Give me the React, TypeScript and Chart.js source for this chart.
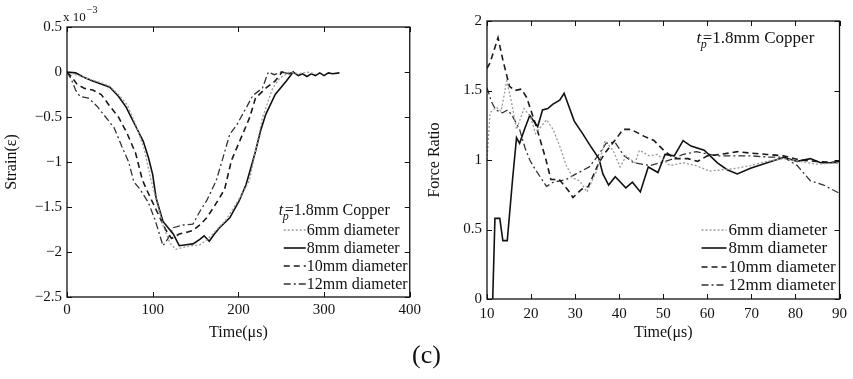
import React, { useEffect, useRef } from "react";
import { Chart, registerables } from "chart.js";
Chart.register(...registerables);

const FONT = "'Liberation Serif', 'Times New Roman', Times, serif";

// ---------- shared ----------
const seriesLabels = ["6mm diameter", "8mm diameter", "10mm diameter", "12mm diameter"];
const legendTitle = "=1.8mm Copper";
const xTitle = "Time(\u03bcs)";

// ---------- left panel: strain (x 10^-3) vs time ----------
const strainT6 = [0, 10, 20, 30, 40, 50, 60, 70, 80, 90, 98, 105, 112, 120, 127, 135, 145, 155, 165, 175, 185, 195, 205, 213, 220, 228, 240, 248, 260, 270, 280, 290];
const strainV6 = [0, -0.03, -0.06, -0.09, -0.12, -0.16, -0.25, -0.36, -0.58, -0.85, -1.2, -1.45, -1.7, -1.9, -1.97, -1.95, -1.93, -1.92, -1.85, -1.75, -1.65, -1.5, -1.35, -1.2, -0.88, -0.51, -0.18, -0.07, 0, -0.02, 0, -0.02];

const strainT8 = [0, 10, 19, 30, 39, 50, 60, 69, 80, 89, 95, 100, 104, 112, 124, 131, 139, 147, 155, 160, 166, 172, 178, 190, 201, 209, 215, 220, 226, 232, 243, 256, 264, 270, 275, 280, 285, 290, 295, 300, 305, 310, 318];
const strainV8 = [0, -0.01, -0.056, -0.1, -0.13, -0.17, -0.27, -0.39, -0.6, -0.77, -0.95, -1.14, -1.4, -1.66, -1.8, -1.93, -1.92, -1.91, -1.86, -1.82, -1.88, -1.8, -1.73, -1.62, -1.43, -1.25, -1.05, -0.88, -0.65, -0.47, -0.25, -0.1, 0, -0.04, -0.02, -0.05, -0.02, -0.04, -0.01, -0.04, -0.01, -0.02, -0.01];

const strainT10 = [0, 5, 12, 20, 30, 40, 50, 60, 70, 80, 88, 95, 105, 115, 122, 131, 140, 147, 155, 163, 170, 178, 184, 192, 205, 213, 220, 232, 243, 251, 258, 265];
const strainV10 = [0, -0.05, -0.14, -0.18, -0.2, -0.25, -0.38, -0.5, -0.68, -0.9, -1.2, -1.35, -1.55, -1.75, -1.85, -1.8, -1.78, -1.76, -1.7, -1.62, -1.52, -1.4, -1.3, -0.98, -0.69, -0.51, -0.29, -0.18, -0.1, 0, -0.02, 0];

const strainT12 = [0, 5, 10, 15, 25, 35, 45, 55, 65, 72, 78, 85, 95, 103, 112, 118, 124, 135, 147, 155, 163, 174, 180, 190, 198, 209, 217, 228, 235, 242, 250, 260];
const strainV12 = [0, -0.08, -0.2, -0.27, -0.29, -0.38, -0.5, -0.62, -0.85, -1.0, -1.22, -1.3, -1.45, -1.65, -1.93, -1.85, -1.73, -1.7, -1.69, -1.55, -1.43, -1.21, -1.02, -0.69, -0.59, -0.4, -0.26, -0.18, 0, -0.03, 0, -0.02];

const strainXTicks = [0, 100, 200, 300, 400];
const strainYTicks = [-2.5, -2, -1.5, -1, -0.5, 0, 0.5];

// ---------- right panel: force ratio vs time ----------
const forceT6 = [10, 10.7, 12.1, 13.2, 14.5, 15.6, 16.7, 18.4, 19.9, 21.0, 23.5, 25.0, 26.5, 28.0, 29.5, 31.0, 32.7, 35.0, 36.8, 38.6, 40.2, 41.6, 43.6, 44.6, 46.8, 48.7, 51.5, 54.5, 57.5, 60.5, 63.5, 66.5, 69.8, 73.5, 77.3, 81, 84.8, 90];
const forceV6 = [1.0, 1.34, 1.38, 1.35, 1.57, 1.41, 1.22, 1.37, 1.31, 1.19, 1.29, 1.22, 1.1, 0.96, 0.87, 0.85, 0.77, 0.93, 1.14, 1.07, 0.95, 1.03, 0.98, 1.07, 1.03, 1.04, 0.96, 0.98, 0.96, 0.92, 0.93, 0.94, 0.96, 0.99, 1.01, 0.99, 0.97, 0.98];

const forceT8 = [11.3, 11.8, 12.9, 13.6, 14.6, 15.8, 16.7, 17.4, 18.5, 19.7, 21.5, 22.6, 23.8, 24.9, 26.5, 27.5, 29.8, 31.7, 33.5, 35.4, 36.3, 37.6, 39.1, 40.3, 41.5, 43.0, 44.8, 46.6, 48.8, 50.4, 52.5, 54.5, 56.3, 59.3, 62.3, 64.5, 66.8, 69.8, 73.6, 77.4, 80.4, 83.4, 85.7, 88, 90];
const forceV8 = [0, 0.58, 0.58, 0.42, 0.42, 0.86, 1.16, 1.12, 1.22, 1.32, 1.24, 1.36, 1.37, 1.4, 1.43, 1.48, 1.28, 1.19, 1.1, 1.01, 0.9, 0.82, 0.88, 0.84, 0.8, 0.84, 0.77, 0.95, 0.91, 1.04, 1.03, 1.14, 1.1, 1.07, 0.98, 0.93, 0.9, 0.94, 0.98, 1.02, 0.99, 1.01, 0.98, 0.98, 0.99];

const forceT10 = [10, 10.7, 12.5, 13.6, 15.1, 16.3, 17.8, 19.0, 21.2, 23.4, 24.5, 26.4, 28.7, 29.5, 31.5, 33.0, 35.4, 37.0, 39.0, 40.9, 42.7, 45.7, 47.9, 50.4, 52.6, 55.6, 57.8, 60.0, 63.0, 66.8, 69.8, 73.5, 77.3, 81.0, 84.8, 90];
const forceV10 = [1.66, 1.7, 1.88, 1.72, 1.53, 1.5, 1.51, 1.45, 1.24, 1.0, 0.86, 0.86, 0.77, 0.73, 0.79, 0.81, 0.98, 1.06, 1.14, 1.22, 1.22, 1.17, 1.14, 1.06, 1.01, 1.01, 0.99, 1.03, 1.04, 1.06, 1.05, 1.04, 1.03, 1.0, 0.99, 0.98];

const forceT12 = [10, 11, 12, 13.5, 14.7, 15.7, 17.4, 18.6, 19.7, 21.0, 23.5, 25.0, 28.0, 30.2, 33.2, 35.4, 37.0, 39.0, 41.1, 43.3, 47.0, 51.5, 54.5, 57.5, 62.0, 66.0, 70.0, 74.0, 77.4, 80.4, 83.4, 86.4, 90];
const forceV12 = [1.52, 1.42, 1.36, 1.34, 1.36, 1.32, 1.22, 1.09, 1.0, 0.93, 0.81, 0.84, 0.86, 0.9, 0.95, 1.04, 1.12, 1.13, 1.03, 0.98, 0.96, 1.0, 1.04, 1.06, 1.03, 1.03, 1.03, 1.02, 1.02, 0.96, 0.85, 0.82, 0.76];

const forceXTicks = [10, 20, 30, 40, 50, 60, 70, 80, 90];
const forceYTicks = [0, 0.5, 1, 1.5, 2];

// ---------- styles (kept apart from data) ----------
const lineStyles = [
  { color: "#9a9a9a", width: 1.3, dash: [2, 2] },
  { color: "#111111", width: 1.6, dash: [] as number[] },
  { color: "#1a1a1a", width: 1.6, dash: [6, 4] },
  { color: "#333333", width: 1.3, dash: [7, 3, 2, 3] },
];

function drawTp(ctx: CanvasRenderingContext2D, x: number, y: number, size: number) {
  ctx.textAlign = "left";
  ctx.textBaseline = "alphabetic";
  ctx.font = `italic ${size}px ${FONT}`;
  ctx.fillText("t", x, y);
  const tw = ctx.measureText("t").width;
  ctx.font = `italic ${Math.round(size * 0.72)}px ${FONT}`;
  ctx.fillText("p", x + tw - 0.5, y + 5);
  ctx.font = `${size}px ${FONT}`;
  ctx.fillText(legendTitle, x + tw + 1.5, y);
}

const panelPlugin = {
  id: "panel",
  afterDraw(chart: any) {
    const o = chart.options.plugins.panel;
    if (!o) return;
    const { ctx, chartArea: a } = chart;
    const xs = chart.scales.x;
    const ys = chart.scales.y;
    ctx.save();
    ctx.strokeStyle = "#111";
    ctx.lineWidth = 1.3;
    ctx.setLineDash([]);
    ctx.strokeRect(a.left, a.top, a.right - a.left, a.bottom - a.top);
    ctx.lineWidth = 1;
    ctx.beginPath();
    const tl = 5;
    xs.ticks.forEach((t: any) => {
      const x = Math.round(xs.getPixelForValue(t.value)) + 0.5;
      ctx.moveTo(x, a.bottom);
      ctx.lineTo(x, a.bottom - tl);
      ctx.moveTo(x, a.top);
      ctx.lineTo(x, a.top + tl);
    });
    ys.ticks.forEach((t: any) => {
      const y = Math.round(ys.getPixelForValue(t.value)) + 0.5;
      ctx.moveTo(a.left, y);
      ctx.lineTo(a.left + tl, y);
      ctx.moveTo(a.right, y);
      ctx.lineTo(a.right - tl, y);
    });
    ctx.stroke();

    // legend
    const L = o.legend;
    ctx.fillStyle = "#111";
    chart.data.datasets.forEach((ds: any, i: number) => {
      const y = a.bottom - L.rows[i];
      ctx.strokeStyle = ds.borderColor;
      ctx.lineWidth = ds.borderWidth;
      ctx.setLineDash(ds.borderDash || []);
      ctx.beginPath();
      ctx.moveTo(a.right - L.x0, y);
      ctx.lineTo(a.right - L.x1, y);
      ctx.stroke();
      ctx.setLineDash([]);
      ctx.font = `${L.size}px ${FONT}`;
      ctx.textAlign = "left";
      ctx.textBaseline = "middle";
      ctx.fillText(ds.label, a.right - L.tx, y + 1);
    });
    ctx.fillStyle = "#111";
    drawTp(
      ctx,
      a.right - o.title.dx,
      o.title.fromBottom ? a.bottom - o.title.dy : a.top + o.title.dy,
      L.size
    );

    if (o.exponent) {
      ctx.textAlign = "left";
      ctx.textBaseline = "alphabetic";
      ctx.font = `13px ${FONT}`;
      ctx.fillText("x 10", a.left - 4, a.top - 6);
      const w = ctx.measureText("x 10").width;
      ctx.font = `10px ${FONT}`;
      ctx.fillText("\u22123", a.left - 3 + w, a.top - 14);
    }
    ctx.restore();
  },
};

type Series = { t: number[]; v: number[] };

function makeConfig(p: any) {
  const series: Series[] = p.series;
  return {
    type: "line",
    data: {
      datasets: series.map((s, i) => ({
        label: seriesLabels[i],
        data: s.t.map((t, j) => ({ x: t, y: s.v[j] })),
        borderColor: lineStyles[i].color,
        borderWidth: lineStyles[i].width,
        borderDash: lineStyles[i].dash,
        pointRadius: 0,
        tension: 0,
        fill: false,
      })),
    },
    options: {
      responsive: false,
      animation: false,
      events: [],
      layout: { padding: { top: p.top, right: p.right, left: 0, bottom: 0 } },
      plugins: {
        legend: { display: false },
        tooltip: { enabled: false },
        panel: p.panel,
      },
      scales: {
        x: {
          type: "linear",
          min: p.xMin,
          max: p.xMax,
          afterBuildTicks: (s: any) => {
            s.ticks = p.xTicks.map((v: number) => ({ value: v }));
          },
          afterFit: (s: any) => {
            s.height = p.xH;
          },
          grid: { display: false, drawTicks: false },
          border: { display: false },
          ticks: {
            color: "#111",
            font: { family: FONT, size: 15 },
            padding: p.xPad,
            maxRotation: 0,
            autoSkip: false,
          },
          title: {
            display: true,
            text: xTitle,
            color: "#111",
            font: { family: FONT, size: 16 },
            padding: { top: 0, bottom: p.xTitlePad },
          },
        },
        y: {
          type: "linear",
          min: p.yMin,
          max: p.yMax,
          afterBuildTicks: (s: any) => {
            s.ticks = p.yTicks.map((v: number) => ({ value: v }));
          },
          afterFit: (s: any) => {
            s.width = p.yW;
          },
          grid: { display: false, drawTicks: false },
          border: { display: false },
          ticks: {
            color: "#111",
            font: { family: FONT, size: 15 },
            padding: 5,
            autoSkip: false,
            callback: (v: any) => String(v).replace("-", "\u2212"),
          },
          title: {
            display: true,
            text: p.yTitle,
            color: "#111",
            font: { family: FONT, size: 16 },
            padding: { top: p.yTitlePad, bottom: 0 },
          },
        },
      },
    },
    plugins: [panelPlugin],
  };
}

function Panel({ cfg, left, width, height }: any) {
  const ref = useRef<HTMLCanvasElement>(null);
  useEffect(() => {
    const chart = new Chart(ref.current as HTMLCanvasElement, makeConfig(cfg) as any);
    return () => chart.destroy();
  }, []);
  return (
    <canvas
      ref={ref}
      width={width}
      height={height}
      style={{ position: "absolute", left, top: 0, width, height, display: "block" }}
    />
  );
}

const leftCfg = {
  series: [
    { t: strainT6, v: strainV6 },
    { t: strainT8, v: strainV8 },
    { t: strainT10, v: strainV10 },
    { t: strainT12, v: strainV12 },
  ],
  xMin: 0, xMax: 400, yMin: -2.5, yMax: 0.5,
  xTicks: strainXTicks, yTicks: strainYTicks,
  top: 27, right: 14, xH: 48, yW: 67, xPad: 4, xTitlePad: 3, yTitlePad: 2,
  yTitle: "Strain(\u03b5)",
  panel: {
    exponent: true,
    legend: { rows: [67, 49, 31, 13], x0: 126, x1: 104, tx: 103, size: 16 },
    title: { dx: 131, fromBottom: true, dy: 82 },
  },
};

const rightCfg = {
  series: [
    { t: forceT6, v: forceV6 },
    { t: forceT8, v: forceV8 },
    { t: forceT10, v: forceV10 },
    { t: forceT12, v: forceV12 },
  ],
  xMin: 10, xMax: 90, yMin: 0, yMax: 2,
  xTicks: forceXTicks, yTicks: forceYTicks,
  top: 21, right: 10, xH: 46, yW: 62, xPad: 6, xTitlePad: 3, yTitlePad: 0,
  yTitle: "Force Ratio",
  panel: {
    exponent: false,
    legend: { rows: [69, 51, 32, 14], x0: 138, x1: 113, tx: 111, size: 17 },
    title: { dx: 143, fromBottom: false, dy: 22 },
  },
};

export default function App() {
  return (
    <div style={{ position: "absolute", left: 0, top: 0, width: 853, height: 379, background: "#fff", overflow: "hidden" }}>
      <Panel cfg={leftCfg} left={0} width={425} height={345} />
      <Panel cfg={rightCfg} left={425} width={428} height={345} />
      <div
        style={{
          position: "absolute",
          left: 0,
          top: 339,
          width: 853,
          textAlign: "center",
          fontFamily: FONT,
          fontSize: 26,
          lineHeight: "32px",
          color: "#111",
        }}
      >
        (c)
      </div>
    </div>
  );
}
